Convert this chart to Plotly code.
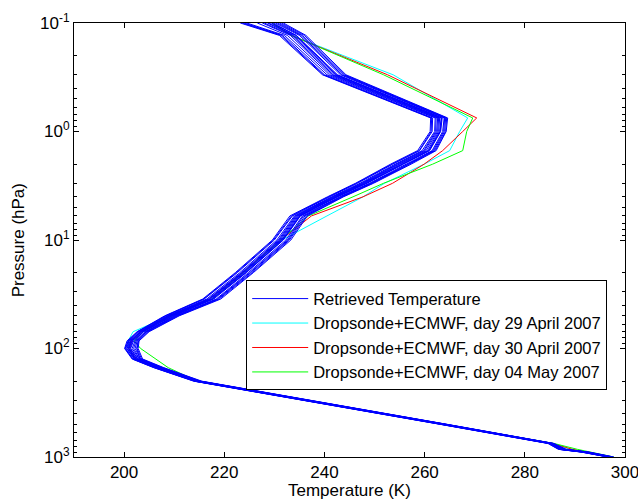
import plotly.graph_objects as go

# Pressure levels (hPa)
pressure = [1000, 900, 850, 750, 500, 300, 200, 150, 125, 100, 85, 70, 50, 35, 20,
            10, 6, 4, 3, 2, 1.5, 1, 0.75, 0.3, 0.13, 0.1]

# Retrieved temperature profiles (K), one list per ensemble member
retrieved = [
    [296.6, 291.2, 286.7, 284.6, 263.1, 235.6, 213.9, 205.9, 201.6, 200.1, 200.6, 202.6, 208.1, 215.7, 222.2, 229.6, 233.1, 240.6, 246.2, 253.2, 258.6, 261.1, 261.2, 239.6, 231.0, 223.2],
    [297.8, 292.8, 288.3, 285.8, 264.5, 237.1, 215.5, 207.9, 203.7, 202.8, 203.0, 205.0, 211.0, 219.3, 225.8, 233.3, 236.6, 243.8, 249.8, 257.3, 262.3, 264.3, 264.6, 244.3, 236.3, 231.8],
    [297.0, 291.8, 287.4, 285.2, 263.8, 236.3, 214.6, 206.8, 202.5, 201.0, 201.6, 203.6, 209.4, 217.4, 224.0, 231.4, 234.8, 242.2, 248.0, 255.2, 260.6, 262.8, 263.0, 242.0, 233.8, 228.6],
    [297.3, 292.2, 287.8, 285.4, 264.1, 236.7, 215.0, 207.3, 203.0, 201.6, 202.2, 204.2, 210.2, 218.4, 224.8, 232.3, 235.6, 243.0, 249.0, 256.3, 261.5, 263.6, 263.9, 243.2, 235.0, 230.2],
    [296.8, 291.5, 287.0, 284.9, 263.4, 235.9, 214.2, 206.3, 202.0, 200.5, 201.0, 203.0, 208.7, 216.5, 223.1, 230.5, 234.0, 241.4, 247.1, 254.1, 259.5, 262.0, 262.1, 240.5, 232.0, 224.5],
    [297.5, 292.5, 288.0, 285.6, 264.3, 236.9, 215.2, 207.6, 203.3, 202.2, 202.6, 204.6, 210.6, 218.8, 225.3, 232.8, 236.1, 243.4, 249.4, 256.8, 261.9, 264.0, 264.2, 243.8, 235.6, 231.0],
    [297.1, 292.0, 287.6, 285.3, 263.9, 236.4, 214.8, 207.0, 202.8, 201.3, 201.9, 203.9, 209.8, 217.9, 224.4, 231.8, 235.2, 242.6, 248.5, 255.8, 261.0, 263.2, 263.5, 242.6, 234.4, 229.4],
    [296.9, 291.6, 287.2, 285.0, 263.6, 236.1, 214.4, 206.5, 202.2, 200.8, 201.3, 203.3, 209.0, 217.0, 223.6, 231.0, 234.4, 241.8, 247.6, 254.6, 260.0, 262.4, 262.6, 241.4, 233.2, 227.6],
    [297.2, 292.1, 287.7, 285.3, 264.0, 236.5, 214.9, 207.1, 203.2, 202.5, 202.8, 204.4, 210.0, 217.6, 224.2, 231.6, 235.0, 242.4, 248.2, 255.5, 260.8, 263.0, 263.3, 242.3, 234.1, 228.9],
    [296.7, 291.4, 286.9, 284.8, 263.3, 235.8, 214.1, 206.1, 201.8, 200.2, 200.8, 202.8, 208.4, 216.0, 222.6, 230.0, 233.6, 241.0, 246.6, 253.6, 259.0, 261.5, 261.6, 240.0, 231.6, 224.0],
    [297.6, 292.6, 288.1, 285.7, 264.4, 237.0, 215.3, 207.7, 203.5, 202.6, 202.9, 204.8, 210.8, 219.0, 225.6, 233.0, 236.4, 243.6, 249.6, 257.0, 262.1, 264.2, 264.4, 244.0, 236.0, 231.4],
    [297.0, 291.9, 287.5, 285.1, 263.7, 236.2, 214.5, 206.6, 202.4, 200.9, 201.4, 203.5, 209.2, 217.2, 223.8, 231.2, 234.6, 242.0, 247.8, 254.9, 260.3, 262.6, 262.8, 241.7, 233.5, 228.0],
    [297.4, 292.3, 287.9, 285.5, 264.2, 236.8, 215.1, 207.4, 203.1, 201.9, 202.4, 204.4, 210.4, 218.6, 225.1, 232.6, 235.8, 243.2, 249.2, 256.6, 261.7, 263.8, 264.0, 243.5, 235.3, 230.6],
    [296.6, 291.3, 286.8, 284.7, 263.2, 235.7, 214.0, 206.0, 201.7, 200.3, 200.9, 202.7, 208.3, 215.9, 222.4, 229.8, 233.4, 240.8, 246.4, 253.5, 258.9, 261.3, 261.4, 239.8, 231.3, 223.6],
    [297.2, 292.0, 287.6, 285.2, 263.9, 236.4, 214.7, 206.9, 202.7, 201.2, 201.7, 203.8, 209.6, 217.7, 224.3, 231.7, 235.1, 242.5, 248.4, 255.6, 260.9, 263.1, 263.4, 242.4, 234.3, 229.8],
    [296.9, 291.7, 287.3, 285.0, 263.6, 236.0, 214.3, 206.4, 202.1, 200.6, 201.2, 203.2, 208.9, 216.8, 223.4, 230.8, 234.2, 241.6, 247.4, 254.4, 259.8, 262.2, 262.3, 241.0, 232.6, 226.6],
]

# Dropsonde + ECMWF reference profiles (K)
ref_29apr = [297.5, 292.5, 289.0, 285.6, 264.0, 236.5, 214.3, 206.3, 202.0, 201.0, 200.8, 201.8, 209.0, 217.0, 223.6, 231.5, 240.5, 247.7, 252.0, 259.9, 265.0, 267.0, 268.6, 253.7, 233.3, 229.5]
ref_30apr = [297.5, 292.5, 289.5, 285.6, 264.0, 236.8, 214.8, 206.8, 202.3, 201.0, 201.5, 203.3, 209.0, 217.0, 223.6, 231.3, 237.4, 247.7, 253.6, 259.9, 263.6, 267.6, 270.4, 252.6, 233.3, 229.5]
ref_04may = [297.8, 293.0, 290.5, 285.8, 264.0, 236.5, 214.6, 208.8, 206.3, 203.3, 202.0, 203.8, 209.5, 217.5, 223.8, 231.3, 236.8, 245.7, 251.8, 261.6, 267.6, 268.4, 269.6, 251.8, 233.4, 229.5]

series_names = ["Retrieved Temperature",
                "Dropsonde+ECMWF, day 29 April 2007",
                "Dropsonde+ECMWF, day 30 April 2007",
                "Dropsonde+ECMWF, day 04 May 2007"]

x_ticks = [200, 220, 240, 260, 280, 300]
y_ticks = [0.1, 1, 10, 100, 1000]
y_ticklabels = ["10<sup>-1</sup>", "10<sup>0</sup>", "10<sup>1</sup>", "10<sup>2</sup>", "10<sup>3</sup>"]

FONT = "Liberation Sans, Arial, Helvetica, sans-serif"
FS = 17

fig = go.Figure()

ref_data = [(ref_29apr, "#00FFFF", series_names[1], 2),
            (ref_30apr, "#FF0000", series_names[2], 3),
            (ref_04may, "#00FF00", series_names[3], 4)]
for vals, col, name, rank in ref_data:
    fig.add_trace(go.Scatter(x=vals, y=pressure, mode="lines", name=name,
                             line=dict(color=col, width=1), legendrank=rank))

for i, prof in enumerate(retrieved):
    fig.add_trace(go.Scatter(x=prof, y=pressure, mode="lines", name=series_names[0],
                             line=dict(color="#0000FF", width=1),
                             showlegend=(i == 0), legendrank=1))

minor_vals = [m * 10 ** e for e in range(-1, 3) for m in range(2, 10)]

fig.update_layout(
    width=638, height=500,
    margin=dict(l=74, r=13, t=23, b=43, autoexpand=False),
    paper_bgcolor="white", plot_bgcolor="white",
    font=dict(family=FONT, size=FS, color="black"),
    showlegend=True,
    legend=dict(x=0.3125, y=0.407, xanchor="left", yanchor="top",
                bgcolor="white", bordercolor="black", borderwidth=1,
                font=dict(family=FONT, size=16.5, color="black"),
                itemwidth=56, tracegroupgap=0),
    xaxis=dict(range=[190, 300], tickvals=x_ticks, ticks="inside", ticklen=5,
               tickcolor="black", showline=True, linecolor="black", linewidth=1,
               mirror="ticks", showgrid=False, zeroline=False, automargin=False,
               ticklabeloverflow="allow", tickfont=dict(family=FONT, size=FS)),
    yaxis=dict(type="log", range=[3, -1], tickvals=y_ticks, ticktext=y_ticklabels,
               ticks="inside", ticklen=5, tickcolor="black", showline=True,
               linecolor="black", linewidth=1, mirror="ticks", showgrid=False,
               zeroline=False, automargin=False, ticklabeloverflow="allow",
               tickfont=dict(family=FONT, size=FS),
               minor=dict(tickvals=minor_vals, ticks="inside", ticklen=3,
                          tickcolor="black", showgrid=False)),
    annotations=[
        dict(text="Temperature (K)", x=0.5, y=-0.051, xref="paper", yref="paper",
             xanchor="center", yanchor="top", showarrow=False,
             font=dict(family=FONT, size=FS)),
        dict(text="Pressure (hPa)", x=-0.101, y=0.5, xref="paper", yref="paper",
             xanchor="center", yanchor="middle", textangle=-90, showarrow=False,
             font=dict(family=FONT, size=FS)),
    ],
)

fig.write_html("out.html", config={"displayModeBar": False},
               post_script="document.body.style.margin='0';document.body.style.padding='0';")
